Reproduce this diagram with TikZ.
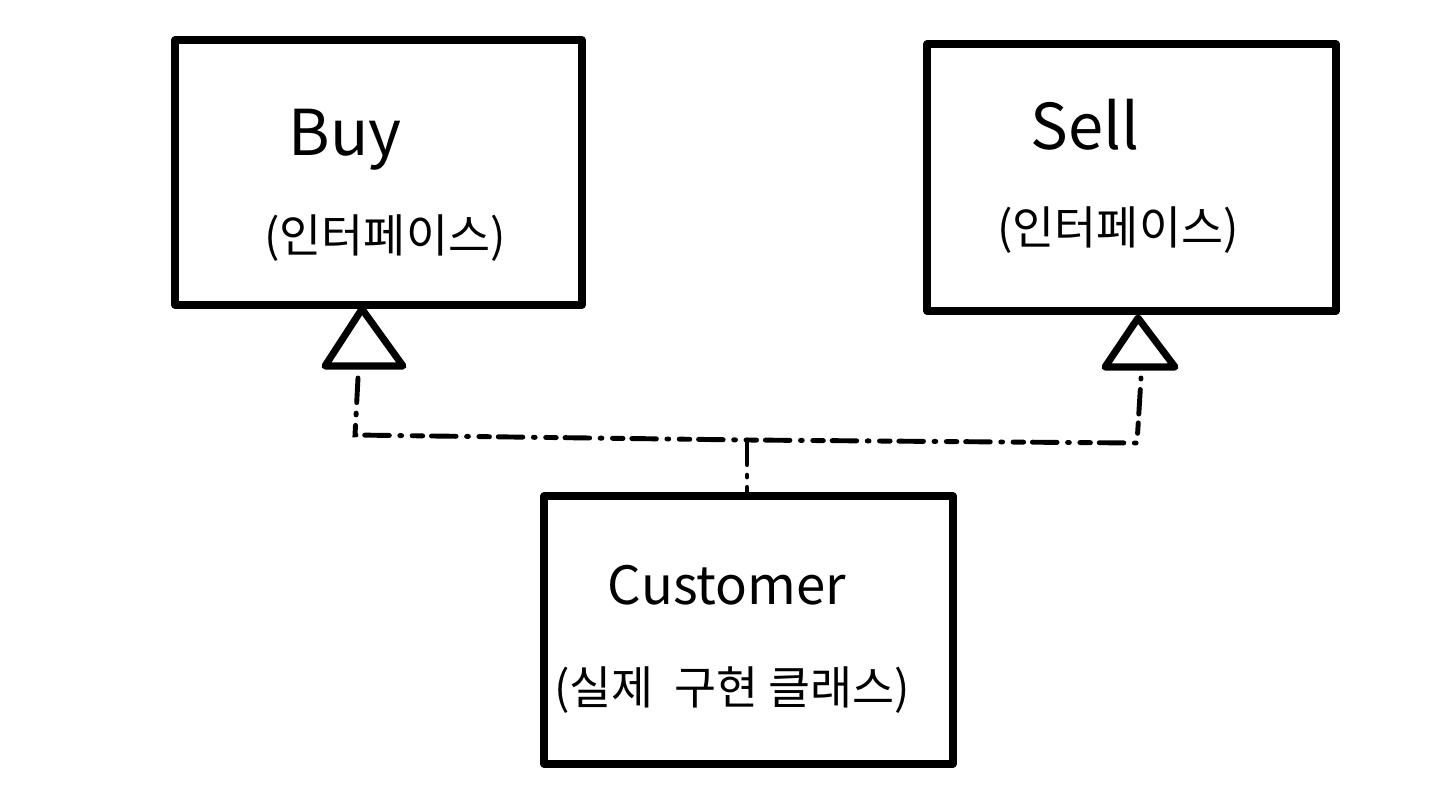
\documentclass[tikz,border=0pt]{standalone}
\usepackage{fontspec}
\setmainfont{Noto Sans CJK KR}
\begin{document}
\begin{tikzpicture}[
  box/.style={draw, line width=4pt, minimum width=#1, inner sep=0pt, line join=round},
  lbl/.style={inner sep=0pt, font=\fontsize{36}{40}\selectfont},
  clbl/.style={inner sep=0pt, font=\fontsize{30}{36}\selectfont},
  klbl/.style={inner sep=0pt, font=\fontsize{26}{30}\selectfont},
  tri/.style={draw, line width=4pt, line join=round, fill=white},
  dep/.style={line width=2.8pt, line cap=round, dash pattern=on 14pt off 6pt on 1pt off 6pt on 6pt off 5pt}
]
\useasboundingbox (0,0) rectangle (28.8,-15.9);
% boxes
\node[box=8.14cm, minimum height=5.3cm] (buy) at (7.57,-3.45) {};
\node[box=8.18cm, minimum height=5.34cm] (sell) at (22.63,-3.55) {};
\node[box=8.18cm, minimum height=5.36cm] (cust) at (14.97,-12.6) {};
% texts
\node[lbl] (buyt) at (6.9,-2.8) {Buy};
\node[klbl] (buyk) at (7.7,-4.76) {(인터페이스)};
\node[lbl] (sellt) at (21.7,-2.5) {Sell};
\node[klbl] (sellk) at (22.36,-4.6) {(인터페이스)};
\node[clbl] (custt) at (14.54,-11.7) {Customer};
\node[klbl] (custk) at (14.64,-13.8) {(실제\ \ 구현 클래스)};
% triangles
\coordinate (ta) at (7.24,-6.18);
\coordinate (tb1) at (6.5,-7.32);
\coordinate (tb2) at (8.06,-7.32);
\coordinate (sa) at (22.76,-6.36);
\coordinate (sb1) at (22.1,-7.34);
\coordinate (sb2) at (23.5,-7.34);
\draw[tri] (ta) -- (tb1) -- (tb2) -- cycle;
\draw[tri] (sa) -- (sb1) -- (sb2) -- cycle;
% connectors
\coordinate (bs) at (7.16,-7.56);
\coordinate (bc) at (7.1,-8.7);
\coordinate (j) at (14.94,-8.8);
\coordinate (sc) at (22.74,-8.86);
\coordinate (ss) at (22.82,-7.56);
\draw[dep] (bs) -- (bc) -- (j) -- (sc) -- (ss);
\draw[dep] (j) -- (j |- cust.north);
\end{tikzpicture}
\end{document}
